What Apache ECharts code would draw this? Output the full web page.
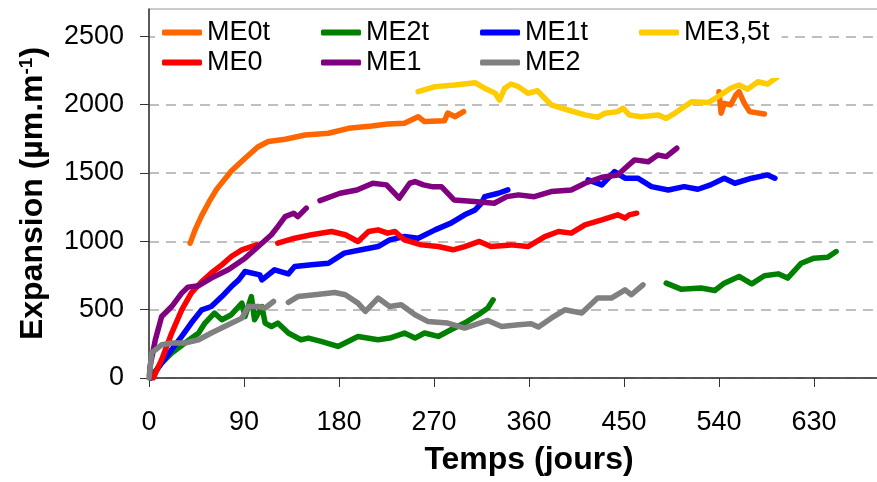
<!DOCTYPE html>
<html>
<head>
<meta charset="utf-8">
<script src="https://cdn.jsdelivr.net/npm/echarts@6/dist/echarts.min.js"></script>
<style>
html, body { margin: 0; padding: 0; background: #fff; }
#draw { width: 877px; height: 482px; }
</style>
</head>
<body>
<div id="draw"></div>
<script>
// [jours, expansion] ; null = coupure de la courbe
var me0t = [[39,987],[44,1090],[50,1190],[57,1290],[64,1380],[78,1515],[91,1608],[103,1690],[113,1730],[129,1747],[148,1778],[170,1791],[189,1827],[211,1844],[226,1859],[242,1864],[255,1912],[261,1876],[280,1883],[283,1939],[290,1912],[298,1949],
	[420,null],[540,2095],[542,1937],[545,2010],[551,1998],[556,2071],[559,2095],[564,2010],[569,1949],[583,1932]];
var me2t = [[1,0],[2.5,12],[12,110],[21.5,183],[34,256],[47,329],[53,402],[62,475],[69,426],[78,463],[88,548],[91,450],[97,596],[100,426],[107,523],[110,402],[116,377],[122,402],[132,329],[144,280],[151,292],[163,268],[179,231],[198,304],[217,280],[228,292],[242,329],[252,292],[261,329],[274,304],[286,353],[299,402],[312,463],[321,512],[326,572],
	[400,null],[490,694],[504,650],[523,658],[536,640],[545,694],[559,743],[571,689],[583,748],[596,762],[605,731],[618,840],[630,877],[643,884],[651,925]];
var me1t = [[2,0],[3,12],[12,110],[21.5,207],[31,304],[40,402],[50,499],[59,523],[69,596],[78,669],[85,718],[91,779],[105,755],[107,718],[119,792],[132,762],[138,816],[154,828],[170,840],[185,914],[201,938],[217,962],[228,1011],[242,1035],[255,1023],[271,1084],[286,1133],[299,1194],[309,1230],[315,1279],[318,1327],[331,1352],[340,1376],
	[380,null],[416,1450],[429,1413],[441,1510],[451,1462],[463,1462],[476,1400],[492,1376],[507,1400],[520,1381],[532,1413],[545,1462],[555,1425],[571,1462],[586,1486],[593,1462]];
var me35t = [[255,2095],[271,2132],[290,2144],[309,2161],[318,2120],[328,2083],[332,2034],[337,2120],[343,2151],[350,2132],[359,2083],[368,2102],[381,1998],[397,1961],[413,1925],[425,1908],[432,1937],[444,1949],[449,1974],[455,1925],[466,1912],[482,1925],[490,1900],[498,1937],[514,2022],[530,2015],[539,2058],[551,2120],[559,2144],[567,2113],[577,2168],[586,2151],[595,2200]];
var me0 = [[4,0],[12,134],[21.5,329],[31,499],[40,621],[50,706],[59,768],[69,828],[78,889],[88,938],[97,962],[102,974],
	[112,null],[122,987],[138,1023],[154,1048],[173,1072],[186,1048],[198,999],[208,1072],[217,1084],[226,1060],[233,1072],[242,1011],[258,974],[274,962],[288,938],[299,962],[313,999],[324,962],[343,974],[359,962],[375,1035],[388,1072],[400,1060],[413,1121],[429,1157],[444,1194],[451,1170],[455,1194],[462,1206]];
var me1 = [[0.5,20],[1,85],[6,280],[12,450],[21.5,523],[31,621],[37,665],[47,675],[59,731],[75,792],[91,877],[103.5,962],[116,1048],[122,1108],[129,1181],[137,1206],[141,1181],[149,1243],
	[155,null],[162,1298],[181,1352],[197,1376],[212,1425],[225,1413],[237,1316],[247,1425],[252,1437],[260,1413],[268,1400],[277,1400],[289,1303],[308,1291],[327,1279],[339,1327],[350,1340],[365,1327],[381,1364],[400,1376],[413,1425],[429,1469],[444,1486],[451,1535],[460,1596],[473,1583],[482,1632],[490,1620],[500,1681]];
var me2 = [[0,0],[1,61],[2.5,183],[12,243],[21.5,256],[34,256],[47,280],[59,329],[75,390],[88,438],[94,523],[103.5,523],[110,512],[118,560],
	[125,null],[132,553],[141,596],[157,609],[176,626],[186,609],[198,548],[205,487],[217,585],[228,523],[239,536],[252,463],[264,414],[283,402],[299,365],[309,390],[321,421],[334,377],[350,390],[362,397],[369,373],[381,438],[394,499],[410,475],[425,585],[438,585],[451,645],[457,609],[468,682]];

var names = ['ME0t', 'ME2t', 'ME1t', 'ME3,5t', 'ME0', 'ME1', 'ME2'];
var colors = ['#FF6600', '#008000', '#0000FF', '#FFCC00', '#FF0000', '#800080', '#808080'];
var datas = [me0t, me2t, me1t, me35t, me0, me1, me2];
var yTicks = [0, 500, 1000, 1500, 2000, 2500];

var font = 'Liberation Sans, Arial, sans-serif';
var myChart = echarts.init(document.getElementById('draw'));

var plain = function(v) {
	return String(v);
};

var legendText = {
	fontFamily : font,
	fontSize : 27,
	color : '#000'
};

var option = {
	animation : false,
	grid : {
		left : 149,
		top : 9,
		bottom : 104,
		right : -32,
		show : true,
		borderColor : '#999',
		borderWidth : 1,
		outerBoundsMode : 'none',
		containLabel : false
	},
	// deux lignes de légende, colonnes espacées de 159 px
	legend : [ {
		left : 155,
		top : 15,
		padding : [ 4, 12, 32, 7 ],
		backgroundColor : '#fff',
		icon : 'roundRect',
		itemWidth : 40,
		itemHeight : 6,
		itemGap : 51,
		data : names.slice(0, 4),
		textStyle : legendText
	}, {
		left : 155,
		top : 45,
		padding : [ 4, 12, 4, 7 ],
		icon : 'roundRect',
		itemWidth : 40,
		itemHeight : 6,
		itemGap : 58.5,
		data : names.slice(4),
		textStyle : legendText
	} ],
	xAxis : {
		type : 'value',
		min : 0,
		max : 720,
		interval : 90,
		name : 'Temps (jours)',
		nameLocation : 'middle',
		nameGap : 66,
		nameTextStyle : {
			fontFamily : font,
			fontSize : 32,
			fontWeight : 'bold',
			color : '#000'
		},
		axisLine : {
			show : true,
			lineStyle : { color : '#333', width : 1.5 }
		},
		axisTick : {
			show : true,
			length : 9,
			lineStyle : { color : '#333' }
		},
		axisLabel : {
			fontFamily : font,
			fontSize : 27,
			color : '#000',
			margin : 31,
			formatter : plain
		},
		splitLine : { show : false }
	},
	yAxis : {
		type : 'value',
		min : 0,
		max : 2700,
		interval : 500,
		name : 'Expansion (µm.m{sup|-1})',
		nameLocation : 'middle',
		nameGap : 100,
		nameTextStyle : {
			fontFamily : font,
			fontSize : 32,
			fontWeight : 'bold',
			color : '#000',
			rich : {
				sup : {
					fontFamily : font,
					fontSize : 19,
					fontWeight : 'bold',
					color : '#000',
					verticalAlign : 'top'
				}
			}
		},
		axisLine : {
			show : true,
			lineStyle : { color : '#333', width : 1.5 }
		},
		axisTick : {
			show : true,
			length : 9,
			customValues : yTicks,
			lineStyle : { color : '#333' }
		},
		axisLabel : {
			fontFamily : font,
			fontSize : 27,
			color : '#000',
			margin : 25,
			customValues : yTicks,
			formatter : plain
		},
		splitLine : {
			show : true,
			lineStyle : { color : '#aaa', width : 1.5, type : [ 10, 7 ] }
		}
	},
	series : names.map(function(n, i) {
		return {
			name : n,
			type : 'line',
			data : datas[i],
			symbol : 'none',
			connectNulls : false,
			color : colors[i],
			lineStyle : {
				color : colors[i],
				width : 5.5,
				cap : 'round',
				join : 'round'
			}
		};
	})
};
myChart.setOption(option);
</script>
</body>
</html>
